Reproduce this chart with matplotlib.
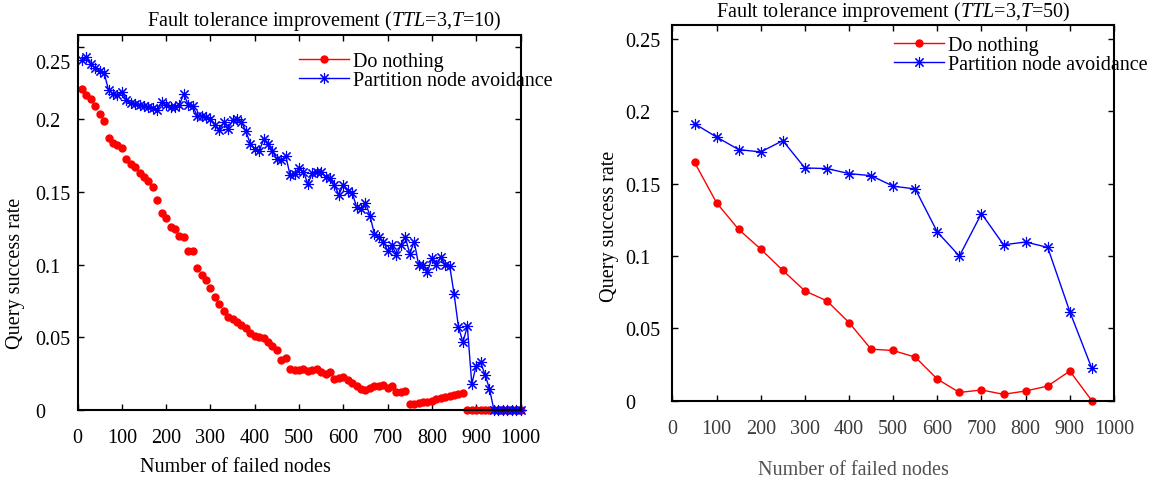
import numpy as np
import matplotlib
matplotlib.use("Agg")
import matplotlib.pyplot as plt
from matplotlib.lines import Line2D
import matplotlib.transforms as mtransforms

plt.rcParams['font.family'] = ['Liberation Serif', 'DejaVu Serif']
plt.rcParams['mathtext.fontset'] = 'custom'
plt.rcParams['mathtext.rm'] = 'Liberation Serif'
plt.rcParams['mathtext.it'] = 'Liberation Serif:italic'

# ---- data: T=10 (left) ----
x_left = list(range(10, 1001, 10))
nothing_left = [
    0.221, 0.2165, 0.2137, 0.209, 0.2035, 0.199, 0.187, 0.184, 0.182, 0.180,
    0.173, 0.169, 0.167, 0.163, 0.160, 0.1575, 0.1535, 0.1448, 0.1355, 0.132,
    0.126, 0.1247, 0.120, 0.1189, 0.1095, 0.1095, 0.0976, 0.093, 0.0897, 0.084,
    0.0778, 0.073, 0.0684, 0.0638, 0.0627, 0.0604, 0.0588, 0.0562, 0.0532, 0.0507,
    0.0505, 0.0494, 0.0471, 0.0443, 0.0415, 0.0346, 0.0356, 0.0282, 0.0275, 0.0278,
    0.0285, 0.0266, 0.0278, 0.0285, 0.0264, 0.0250, 0.0259, 0.0213, 0.0223, 0.0225,
    0.0207, 0.0184, 0.0168, 0.0145, 0.0140, 0.0152, 0.0163, 0.0168, 0.0172, 0.0154,
    0.0163, 0.0122, 0.0122, 0.0131, 0.0039, 0.0044, 0.0048, 0.0053, 0.0057, 0.0064,
    0.0076, 0.0083, 0.0087, 0.0094, 0.0103, 0.0108, 0.0117, 0, 0, 0,
    0, 0, 0, 0, 0, 0, 0, 0, 0, 0]
avoid_left = [
    0.241, 0.243, 0.238, 0.235, 0.233, 0.232, 0.220, 0.2176, 0.2165, 0.219,
    0.2135, 0.2114, 0.2107, 0.2096, 0.2089, 0.2085, 0.2080, 0.2066, 0.2119, 0.2096,
    0.2085, 0.2085, 0.2100, 0.2176, 0.2096, 0.2092, 0.2023, 0.2023, 0.2016, 0.2004,
    0.1963, 0.1924, 0.1981, 0.1935, 0.1993, 0.2000, 0.1981, 0.1917, 0.1832, 0.1793,
    0.1779, 0.1862, 0.1832, 0.1779, 0.1729, 0.1717, 0.1747, 0.1614, 0.1625, 0.1665,
    0.1637, 0.1556, 0.1630, 0.1637, 0.1637, 0.1602, 0.1596, 0.1545, 0.1481, 0.1550,
    0.1510, 0.1494, 0.1396, 0.1380, 0.1426, 0.1338, 0.1212, 0.1189, 0.1159, 0.1097,
    0.1132, 0.1067, 0.1136, 0.1189, 0.1074, 0.1159, 0.0999, 0.0999, 0.0952, 0.1045,
    0.0999, 0.1051, 0.0999, 0.0994, 0.0799, 0.0570, 0.0466, 0.0576, 0.0179, 0.0305,
    0.0328, 0.0241, 0.0145, 0, 0, 0, 0, 0, 0, 0]

# ---- data: T=50 (right) ----
x_right = list(range(50, 951, 50))
nothing_right = [0.1648, 0.1368, 0.1184, 0.1048, 0.0901, 0.0759, 0.0690, 0.0540,
                 0.0356, 0.0347, 0.0301, 0.0149, 0.0057, 0.0074, 0.0044, 0.0067,
                 0.0101, 0.0205, 0.0]
avoid_right = [0.1915, 0.1823, 0.1736, 0.1720, 0.1798, 0.1609, 0.1605, 0.1570,
               0.1556, 0.1483, 0.1464, 0.1166, 0.1000, 0.1294, 0.1078, 0.1097,
               0.1060, 0.0616, 0.0223]

xticks = [0, 100, 200, 300, 400, 500, 600, 700, 800, 900, 1000]
yticks = [0, 0.05, 0.1, 0.15, 0.2, 0.25]
ytick_labels = ['0', '0.05', '0.1', '0.15', '0.2', '0.25']
labels = ['Do nothing', 'Partition node avoidance']

FS = 14.5
ast = (8, 2, 0)

fig = plt.figure(figsize=(11.59, 4.85), dpi=100)
ax1 = fig.add_axes([0.0669, 0.1526, 0.3822, 0.7732])
ax2 = fig.add_axes([0.5802, 0.1718, 0.3809, 0.7753])


def style_axes(ax, ytop, ypad):
    ax.set_xlim(0, 1000)
    ax.set_ylim(0, ytop)
    ax.set_xticks(xticks)
    ax.set_yticks(yticks, ytick_labels)
    ax.tick_params(direction='in', top=True, right=True, length=4, width=1,
                   labelsize=FS)
    ax.tick_params(axis='x', pad=13)
    ax.tick_params(axis='y', pad=ypad)
    for lab in ax.get_yticklabels():
        lab.set_horizontalalignment('left')
    for s in ax.spines.values():
        s.set_linewidth(1.5)
        s.set_zorder(5)


# left panel
ax1.plot(x_left, nothing_left, 'o', color='red', ms=5, clip_on=False, zorder=3)
ax1.plot(x_left, avoid_left, '-', color='blue', lw=1.0, marker=ast, ms=8,
         mew=0.8, clip_on=False, zorder=3)
style_axes(ax1, 0.258, 30.6)
# the 0.25 label sits a bit lower in the original
lab = ax1.get_yticklabels()[-1]
lab.set_transform(lab.get_transform() +
                  mtransforms.ScaledTranslation(0, -0.14, fig.dpi_scale_trans))
ax1.text(0.556, 1.0 + 15 / 375, r'Fault tolerance improvement ($\mathit{TTL}$=3,$\mathit{T}$=10)',
         transform=ax1.transAxes, ha='center', va='center', fontsize=FS)
ax1.set_xlabel('Number of failed nodes', fontsize=FS)
ax1.xaxis.set_label_coords(0.3555, -0.152)
ax1.xaxis.label.set_va('center')
ax1.set_ylabel('Query success rate', fontsize=FS)
ax1.yaxis.set_label_coords(-0.141, 0.368)
ax1.yaxis.label.set_va('center')

h1 = [Line2D([], [], color='red', lw=1.0, marker='o', ms=5),
      Line2D([], [], color='blue', lw=1.0, marker=ast, ms=8, mew=0.8)]
ax1.legend(h1, labels, loc='upper left', bbox_to_anchor=(0.5, 0.954),
           frameon=False, fontsize=FS, borderpad=0, borderaxespad=0,
           handlelength=2.5, handletextpad=0.2, labelspacing=0)

# right panel
ax2.plot(x_right, nothing_right, '-', color='red', lw=1.0, marker='o', ms=5,
         clip_on=False, zorder=3)
ax2.plot(x_right, avoid_right, '-', color='blue', lw=1.0, marker=ast, ms=8,
         mew=0.8, clip_on=False, zorder=3)
style_axes(ax2, 0.26, 34.2)
for lab in ax2.get_xticklabels():
    lab.set_color('#3c3c3c')
ax2.text(0.5, 1.0 + 14 / 376, r'Fault tolerance improvement ($\mathit{TTL}$=3,$\mathit{T}$=50)',
         transform=ax2.transAxes, ha='center', va='center', fontsize=FS)
ax2.set_xlabel('Number of failed nodes', fontsize=FS, color='#505050')
ax2.xaxis.set_label_coords(0.409, -0.182)
ax2.xaxis.label.set_va('center')
ax2.set_ylabel('Query success rate', fontsize=FS)
ax2.yaxis.set_label_coords(-0.143, 0.465)
ax2.yaxis.label.set_va('center')

h2 = [Line2D([], [], color='red', lw=1.0, marker='o', ms=5),
      Line2D([], [], color='blue', lw=1.0, marker=ast, ms=8, mew=0.8)]
ax2.legend(h2, labels, loc='upper left', bbox_to_anchor=(0.5008, 0.970),
           frameon=False, fontsize=FS, borderpad=0, borderaxespad=0,
           handlelength=2.5, handletextpad=0.2, labelspacing=0)

fig.savefig('out.png', dpi=100)
